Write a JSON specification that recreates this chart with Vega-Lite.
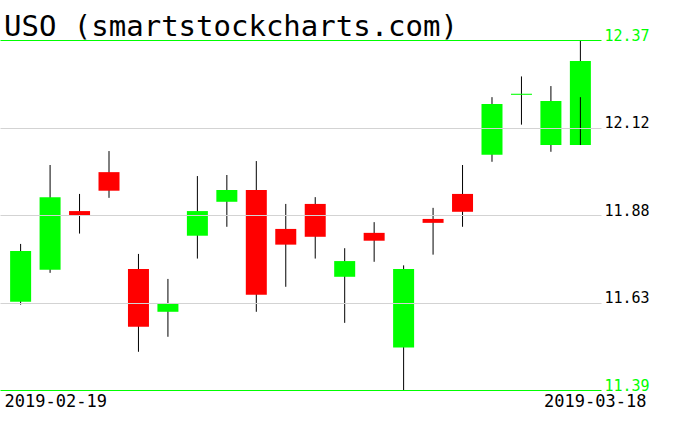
{
  "$schema": "https://vega.github.io/schema/vega-lite/v6.json",
  "autosize": "none",
  "width": 601,
  "height": 350,
  "padding": {"left": 0, "top": 40, "right": 75, "bottom": 41},
  "background": "white",
  "title": {
    "text": "USO (smartstockcharts.com)",
    "anchor": "start",
    "font": "DejaVu Sans Mono",
    "fontSize": 29,
    "fontWeight": "normal",
    "color": "black",
    "baseline": "alphabetic",
    "offset": 3,
    "dx": 4,
    "dy": 40
  },
  "config": {"view": {"stroke": null}},
  "data": {
    "values": [
      {"date": "2019-02-19", "open": 11.637, "high": 11.799, "low": 11.629, "close": 11.779},
      {"date": "2019-02-20", "open": 11.727, "high": 12.020, "low": 11.718, "close": 11.930},
      {"date": "2019-02-21", "open": 11.891, "high": 11.939, "low": 11.828, "close": 11.880},
      {"date": "2019-02-22", "open": 12.000, "high": 12.059, "low": 11.928, "close": 11.948},
      {"date": "2019-02-25", "open": 11.729, "high": 11.771, "low": 11.497, "close": 11.567},
      {"date": "2019-02-26", "open": 11.609, "high": 11.701, "low": 11.539, "close": 11.631},
      {"date": "2019-02-27", "open": 11.822, "high": 11.989, "low": 11.758, "close": 11.891},
      {"date": "2019-02-28", "open": 11.917, "high": 11.992, "low": 11.847, "close": 11.950},
      {"date": "2019-03-01", "open": 11.950, "high": 12.031, "low": 11.609, "close": 11.657},
      {"date": "2019-03-04", "open": 11.841, "high": 11.911, "low": 11.679, "close": 11.797},
      {"date": "2019-03-05", "open": 11.911, "high": 11.930, "low": 11.758, "close": 11.819},
      {"date": "2019-03-06", "open": 11.707, "high": 11.787, "low": 11.578, "close": 11.751},
      {"date": "2019-03-07", "open": 11.830, "high": 11.860, "low": 11.749, "close": 11.808},
      {"date": "2019-03-08", "open": 11.509, "high": 11.739, "low": 11.390, "close": 11.729},
      {"date": "2019-03-11", "open": 11.869, "high": 11.900, "low": 11.769, "close": 11.858},
      {"date": "2019-03-12", "open": 11.939, "high": 12.020, "low": 11.847, "close": 11.889},
      {"date": "2019-03-13", "open": 12.049, "high": 12.210, "low": 12.029, "close": 12.191},
      {"date": "2019-03-14", "open": 12.2165, "high": 12.268, "low": 12.133, "close": 12.2195},
      {"date": "2019-03-15", "open": 12.076, "high": 12.241, "low": 12.057, "close": 12.199},
      {"date": "2019-03-18", "open": 12.076, "high": 12.370, "low": 12.076, "close": 12.311, "inner": 12.210}
    ]
  },
  "encoding": {
    "x": {
      "field": "date",
      "type": "ordinal",
      "sort": null,
      "scale": {"paddingInner": 0, "paddingOuter": 0.2},
      "axis": {
        "orient": "bottom",
        "title": null,
        "values": ["2019-02-19", "2019-03-18"],
        "labelAngle": 0,
        "domain": false,
        "ticks": false,
        "grid": false,
        "labelFont": "DejaVu Sans Mono",
        "labelFontSize": 17,
        "labelColor": "black",
        "labelPadding": 3,
        "labelBaseline": "top",
        "labelAlign": {"condition": {"test": "datum.value == '2019-02-19'", "value": "left"}, "value": "right"},
        "labelOffset": {"condition": {"test": "datum.value == '2019-02-19'", "value": -16}, "value": 66}
      }
    }
  },
  "layer": [
    {
      "mark": {"type": "rule", "color": "black", "strokeWidth": 1},
      "encoding": {
        "y": {
          "field": "low",
          "type": "quantitative",
          "scale": {"domain": [11.39, 12.37], "zero": false, "nice": false},
          "axis": {
            "orient": "right",
            "title": null,
            "values": [11.39, 11.634, 11.88, 12.124, 12.37],
            "format": ".2f",
            "domain": false,
            "ticks": false,
            "grid": true,
            "zindex": 1,
            "gridColor": {"condition": {"test": "datum.value <= 11.3901 || datum.value >= 12.3699", "value": "#00ff00"}, "value": "#d3d3d3"},
            "gridWidth": 1,
            "gridOpacity": 1,
            "labelColor": {"condition": {"test": "datum.value <= 11.3901 || datum.value >= 12.3699", "value": "#00ff00"}, "value": "black"},
            "labelFont": "DejaVu Sans Mono",
            "labelFontSize": 15,
            "labelBaseline": "alphabetic",
            "labelFlush": false,
            "labelPadding": 3,
            "labelOverlap": false
          }
        },
        "y2": {"field": "high"}
      }
    },
    {
      "mark": {"type": "bar", "width": 21},
      "encoding": {
        "y": {"field": "open", "type": "quantitative"},
        "y2": {"field": "close"},
        "color": {"condition": {"test": "datum.close >= datum.open", "value": "#00ff00"}, "value": "#ff0000"}
      }
    },
    {
      "transform": [{"filter": "isValid(datum.inner)"}],
      "mark": {"type": "rule", "color": "black", "strokeWidth": 1},
      "encoding": {
        "y": {"field": "inner", "type": "quantitative"},
        "y2": {"field": "low"}
      }
    }
  ]
}
